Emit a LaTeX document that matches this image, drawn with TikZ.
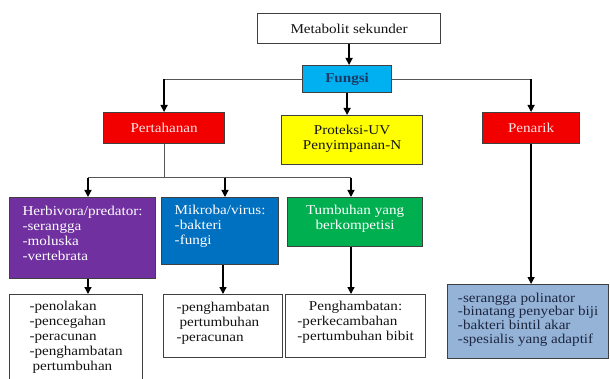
\documentclass[tikz,border=0pt]{standalone}
\usepackage{fontspec}
\setmainfont{Liberation Serif}[FakeStretch=1.12]
\usetikzlibrary{arrows.meta}
\newlength\wthreelen
\definecolor{bordc}{HTML}{404040}
\definecolor{fungsic}{HTML}{00B0F0}
\definecolor{fungsit}{HTML}{1F3864}
\definecolor{redc}{HTML}{F20000}
\definecolor{pinkt}{HTML}{FFE4E4}
\definecolor{yellowc}{HTML}{FFFF00}
\definecolor{purplec}{HTML}{7030A0}
\definecolor{bluec}{HTML}{0070C0}
\definecolor{greenc}{HTML}{00B050}
\definecolor{lbluec}{HTML}{95B3D7}
\definecolor{darkt}{HTML}{141414}
\definecolor{navyt}{HTML}{1C2640}
\definecolor{linec}{HTML}{555555}
\tikzset{
  box/.style={draw=bordc, line width=1.2pt, inner sep=0pt, anchor=north west,
    font=\fontsize{13.5}{15}\selectfont, align=left, text=darkt},
  ln/.style={draw=linec, line width=1pt},
  arr/.style={draw=black, line width=1.3pt, -{Triangle[width=7pt,length=7pt]}}
}
\begin{document}
\begin{tikzpicture}[x=1pt,y=-1pt]
\useasboundingbox[fill=white] (0,0) rectangle (610,379);
% top level
\node[box, fill=white, minimum width=183, minimum height=30, align=center] (meta) at (257,13) {Metabolit sekunder};
\node[box, fill=fungsic, minimum width=89, minimum height=27, text=fungsit, font=\fontsize{13.5}{15}\selectfont\bfseries] (fungsi) at (302,65) {Fungsi};
\node[box, fill=redc, minimum width=121, minimum height=31, text=pinkt] (pert) at (103,112) {Pertahanan};
\node[box, fill=yellowc, minimum width=141, minimum height=49, align=center, text depth=6pt] (prot) at (281,115) {Proteksi-UV\\Penyimpanan-N};
\node[box, fill=redc, minimum width=97, minimum height=31, text=pinkt] (pen) at (482,112) {Penarik};
% second level
\node[box, fill=purplec, minimum width=146, minimum height=81, text=white, text depth=10pt] (herb) at (9,197) {Herbivora/predator:\\-serangga\\-moluska\\-vertebrata};
\node[box, fill=bluec, minimum width=117, minimum height=67, text=white, text depth=13pt] (mik) at (161,197) {Mikroba/virus:\\-bakteri\\-fungi};
\node[box, fill=greenc, minimum width=135, minimum height=49, text=white, align=center, text depth=9pt] (grn) at (287,197) {Tumbuhan yang\\berkompetisi};
% bottom level
\node[box, fill=white, minimum width=133, minimum height=89, text depth=7pt] (w1) at (9,294) {-penolakan\\-pencegahan\\-peracunan\\-penghambatan\\\hspace*{3pt}pertumbuhan};
\node[box, fill=white, minimum width=119, minimum height=63, text depth=9pt] (w2) at (163,294) {-penghambatan\\\hspace*{3pt}pertumbuhan\\-peracunan};
\node[box, fill=white, minimum width=140, minimum height=63, text depth=11pt] (w3) at (285,294) {\settowidth{\wthreelen}{-pertumbuhan bibit}\makebox[\wthreelen]{Penghambatan:}\\-perkecambahan\\-pertumbuhan bibit};
\node[box, fill=lbluec, minimum width=161, minimum height=74, text=navyt, text depth=7pt, font=\fontsize{13.5}{13.8}\selectfont] (lb) at (447,284) {-serangga polinator\\-binatang penyebar biji\\-bakteri bintil akar\\-spesialis yang adaptif};
% connectors
\draw[arr] (meta.south) -- (meta.south |- fungsi.north);
\draw[arr] (fungsi.south) -- (fungsi.south |- prot.north);
\coordinate (cL) at (pert.north |- fungsi.west);
\coordinate (cR) at (pen.north |- fungsi.east);
\draw[ln] (fungsi.west) -- (cL);
\draw[arr] (cL) -- (pert.north);
\draw[ln] (fungsi.east) -- (cR);
\draw[arr] (cR) -- (pen.north);
\coordinate (jc) at (pert.south |- 0,178);
\coordinate (j1) at (88,178);
\coordinate (j2) at (225,178);
\coordinate (j3) at (351,178);
\coordinate (c2) at (223,0);
\draw[ln] (pert.south) -- (jc);
\draw[ln] (j1) -- (j3);
\draw[arr] (j1) -- (j1 |- herb.north);
\draw[arr] (j2) -- (j2 |- mik.north);
\draw[arr] (j3) -- (j3 |- grn.north);
\draw[arr] (j1 |- herb.south) -- (j1 |- w1.north);
\draw[arr] (c2 |- mik.south) -- (c2 |- w2.north);
\draw[arr] (j3 |- grn.south) -- (j3 |- w3.north);
\draw[arr] (pen.south) -- (pen.south |- lb.north);
\end{tikzpicture}
\end{document}
